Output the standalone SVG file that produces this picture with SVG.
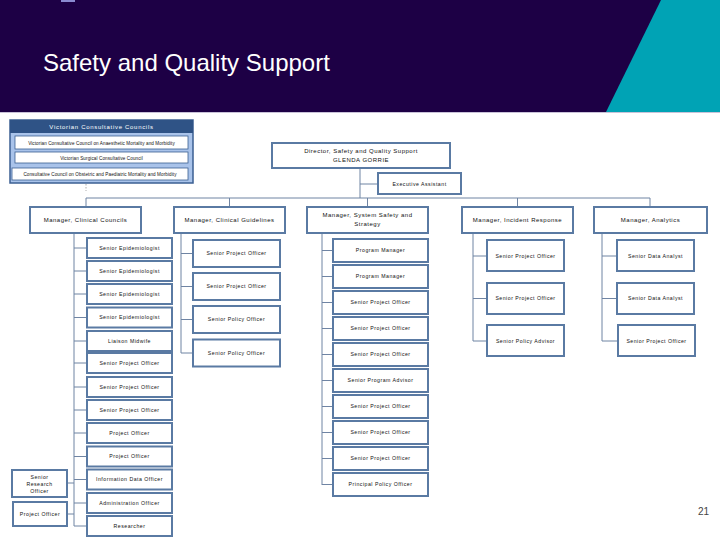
<svg xmlns="http://www.w3.org/2000/svg" width="720" height="540" viewBox="0 0 720 540">
<style>
.b{fill:#fff;stroke:#5a7aa3;stroke-width:2}
.c{fill:none;stroke:#6f84a3;stroke-width:1}
.t{font-family:"Liberation Sans",Arial,sans-serif;font-size:5.2px;letter-spacing:0.5px;fill:#111;text-anchor:middle}
.m{font-family:"Liberation Sans",Arial,sans-serif;font-size:6px;letter-spacing:0.5px;fill:#111;text-anchor:middle}
.vb{fill:#fff;stroke:#3b5f92;stroke-width:0.8}
</style>
<rect x="0" y="0" width="720" height="540" fill="#fff"/>
<g id="header">
<rect x="0" y="0" width="720" height="112" fill="#1d0045"/>
<polygon points="661,0 720,0 720,112 606,112" fill="#00a3b5"/>
<rect x="61" y="0" width="14" height="2" fill="#8a8ad0"/>
<line x1="0" y1="112.5" x2="720" y2="112.5" stroke="#c9c2d8" stroke-width="1"/>
<text x="43" y="71" font-family="Liberation Sans,Arial,sans-serif" font-size="24" fill="#fff">Safety and Quality Support</text>
</g>
<g id="councils">
<rect x="10" y="120" width="183" height="63" fill="#a9c3ea" stroke="#3b5f92" stroke-width="1.5"/>
<rect x="10" y="120" width="183" height="13" fill="#2f5386"/>
<text x="101.5" y="129" class="m" style="fill:#fff;letter-spacing:0.7px">Victorian Consultative Councils</text>
<rect x="15" y="136" width="173" height="13" class="vb"/>
<text x="101.5" y="144.5" class="t" style="font-size:4.6px;letter-spacing:0.1px">Victorian Consultative Council on Anaesthetic Mortality and Morbidity</text>
<rect x="15" y="152" width="173" height="11" class="vb"/>
<text x="101.5" y="159.5" class="t" style="font-size:4.6px;letter-spacing:0.1px">Victorian Surgical Consultative Council</text>
<rect x="12" y="168" width="176" height="12" class="vb"/>
<text x="100" y="175.8" class="t" style="font-size:4.6px;letter-spacing:0.1px">Consultative Council on Obstetric and Paediatric Mortality and Morbidity</text>
<line x1="86" y1="184" x2="86" y2="191" stroke="#999" stroke-width="0.8" stroke-dasharray="1.5,1.5"/>
</g>
<g id="connectors">
<path class="c" d="M360,168V198M360,184H378M86,198H650M86,198V207M229.5,198V207M367.5,198V207M517.5,198V207M650,198V207"/>
<path class="c" d="M74,233V526M74,248H87M74,271H87M74,294H87M74,317.5H87M74,341H87M74,363H87M74,387H87M74,410H87M74,433H87M74,456.5H87M74,479.5H87M74,503H87M74,526H87M67,483H74M67,514H74"/>
<path class="c" d="M181,233V353M181,253.5H193M181,286.5H193M181,319.5H193M181,353H193"/>
<path class="c" d="M322,233V485M322,250.5H333M322,276.5H333M322,302.5H333M322,328.5H333M322,354.5H333M322,380.5H333M322,406.5H333M322,432.5H333M322,458.5H333M322,484.5H333"/>
<path class="c" d="M473,233V341M473,256H487M473,298.5H487M473,341H487"/>
<path class="c" d="M602,233V341M602,256H617M602,298.5H617M602,341H617"/>
</g>
<g id="director"><rect x="272" y="143" width="178" height="25" class="b"/><text x="361" y="153" class="m">Director, Safety and Quality Support</text><text x="361" y="162" class="m">GLENDA GORRIE</text></g>
<g id="exec"><rect x="378" y="173" width="83" height="21" class="b"/><text x="419.5" y="185.5" class="t">Executive Assistant</text></g>
<g id="mgr1"><rect x="30" y="207" width="111" height="26" class="b"/><text x="85.5" y="222" class="m">Manager, Clinical Councils</text></g>
<g id="mgr2"><rect x="174" y="207" width="111" height="26" class="b"/><text x="229.5" y="222" class="m">Manager, Clinical Guidelines</text></g>
<g id="mgr3"><rect x="307" y="207" width="121" height="26" class="b"/><text x="367.5" y="217" class="m">Manager, System Safety and</text><text x="367.5" y="226" class="m">Strategy</text></g>
<g id="mgr4"><rect x="462" y="207" width="111" height="26" class="b"/><text x="517.5" y="222" class="m">Manager, Incident Response</text></g>
<g id="mgr5"><rect x="594" y="207" width="113" height="26" class="b"/><text x="650.5" y="222" class="m">Manager, Analytics</text></g>
<g id="col1">
<g id="c1-1"><rect x="87" y="238" width="85" height="20" class="b"/><text x="129.5" y="249.8" class="t">Senior Epidemiologist</text></g>
<g id="c1-2"><rect x="87" y="261" width="85" height="20" class="b"/><text x="129.5" y="272.8" class="t">Senior Epidemiologist</text></g>
<g id="c1-3"><rect x="87" y="284" width="85" height="20" class="b"/><text x="129.5" y="295.8" class="t">Senior Epidemiologist</text></g>
<g id="c1-4"><rect x="87" y="307.5" width="85" height="20" class="b"/><text x="129.5" y="319.3" class="t">Senior Epidemiologist</text></g>
<g id="c1-5"><rect x="87" y="331" width="85" height="20" class="b"/><text x="129.5" y="342.8" class="t">Liaison Midwife</text></g>
<g id="c1-6"><rect x="87" y="353" width="85" height="20" class="b"/><text x="129.5" y="364.8" class="t">Senior Project Officer</text></g>
<g id="c1-7"><rect x="87" y="377" width="85" height="20" class="b"/><text x="129.5" y="388.8" class="t">Senior Project Officer</text></g>
<g id="c1-8"><rect x="87" y="400" width="85" height="20" class="b"/><text x="129.5" y="411.8" class="t">Senior Project Officer</text></g>
<g id="c1-9"><rect x="87" y="423" width="85" height="20" class="b"/><text x="129.5" y="434.8" class="t">Project Officer</text></g>
<g id="c1-10"><rect x="87" y="446.5" width="85" height="20" class="b"/><text x="129.5" y="458.3" class="t">Project Officer</text></g>
<g id="c1-11"><rect x="87" y="469.5" width="85" height="20" class="b"/><text x="129.5" y="481.3" class="t">Information Data Officer</text></g>
<g id="c1-12"><rect x="87" y="493" width="85" height="20" class="b"/><text x="129.5" y="504.8" class="t">Administration Officer</text></g>
<g id="c1-13"><rect x="87" y="516" width="85" height="20" class="b"/><text x="129.5" y="527.8" class="t">Researcher</text></g>
</g>
<g id="sro"><rect x="12" y="470" width="55" height="27" class="b"/><text x="39.5" y="478.5" class="t">Senior</text><text x="39.5" y="485.5" class="t">Research</text><text x="39.5" y="492.5" class="t">Officer</text></g>
<g id="po"><rect x="13" y="502" width="54" height="24" class="b"/><text x="40" y="515.8" class="t">Project Officer</text></g>
<g id="col2">
<g id="c2-1"><rect x="193" y="240" width="87" height="27" class="b"/><text x="236.5" y="255.3" class="t">Senior Project Officer</text></g>
<g id="c2-2"><rect x="193" y="273" width="87" height="27" class="b"/><text x="236.5" y="288.3" class="t">Senior Project Officer</text></g>
<g id="c2-3"><rect x="193" y="306" width="87" height="27" class="b"/><text x="236.5" y="321.3" class="t">Senior Policy Officer</text></g>
<g id="c2-4"><rect x="193" y="339.5" width="87" height="27" class="b"/><text x="236.5" y="354.8" class="t">Senior Policy Officer</text></g>
</g>
<g id="col3">
<g id="c3-1"><rect x="333" y="239" width="95" height="23" class="b"/><text x="380.5" y="252.3" class="t">Program Manager</text></g>
<g id="c3-2"><rect x="333" y="265" width="95" height="23" class="b"/><text x="380.5" y="278.3" class="t">Program Manager</text></g>
<g id="c3-3"><rect x="333" y="291" width="95" height="23" class="b"/><text x="380.5" y="304.3" class="t">Senior Project Officer</text></g>
<g id="c3-4"><rect x="333" y="317" width="95" height="23" class="b"/><text x="380.5" y="330.3" class="t">Senior Project Officer</text></g>
<g id="c3-5"><rect x="333" y="343" width="95" height="23" class="b"/><text x="380.5" y="356.3" class="t">Senior Project Officer</text></g>
<g id="c3-6"><rect x="333" y="369" width="95" height="23" class="b"/><text x="380.5" y="382.3" class="t">Senior Program Advisor</text></g>
<g id="c3-7"><rect x="333" y="395" width="95" height="23" class="b"/><text x="380.5" y="408.3" class="t">Senior Project Officer</text></g>
<g id="c3-8"><rect x="333" y="421" width="95" height="23" class="b"/><text x="380.5" y="434.3" class="t">Senior Project Officer</text></g>
<g id="c3-9"><rect x="333" y="447" width="95" height="23" class="b"/><text x="380.5" y="460.3" class="t">Senior Project Officer</text></g>
<g id="c3-10"><rect x="333" y="473" width="95" height="23" class="b"/><text x="380.5" y="486.3" class="t">Principal Policy Officer</text></g>
</g>
<g id="col4">
<g id="c4-1"><rect x="487" y="240" width="77" height="31" class="b"/><text x="525.5" y="257.8" class="t">Senior Project Officer</text></g>
<g id="c4-2"><rect x="487" y="283" width="77" height="31" class="b"/><text x="525.5" y="300.3" class="t">Senior Project Officer</text></g>
<g id="c4-3"><rect x="487" y="325" width="77" height="31" class="b"/><text x="525.5" y="342.8" class="t">Senior Policy Advisor</text></g>
</g>
<g id="col5">
<g id="c5-1"><rect x="617" y="240" width="77" height="31" class="b"/><text x="655.5" y="257.8" class="t">Senior Data Analyst</text></g>
<g id="c5-2"><rect x="617" y="283" width="77" height="31" class="b"/><text x="655.5" y="300.3" class="t">Senior Data Analyst</text></g>
<g id="c5-3"><rect x="618" y="325" width="77" height="31" class="b"/><text x="656.5" y="342.8" class="t">Senior Project Officer</text></g>
</g>
<text x="709" y="515" font-family="Liberation Sans,Arial,sans-serif" font-size="10" fill="#444" text-anchor="end">21</text>
</svg>
